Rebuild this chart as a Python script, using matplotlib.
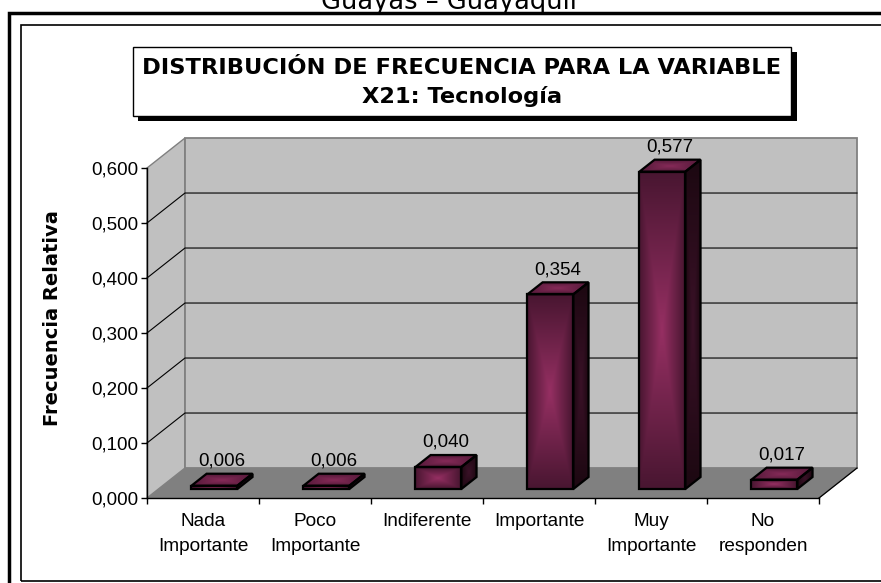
import numpy as np
import matplotlib.pyplot as plt
from matplotlib.patches import Polygon, Rectangle
from matplotlib.colors import LinearSegmentedColormap

# data
categories = ['Nada\nImportante', 'Poco\nImportante', 'Indiferente',
              'Importante', 'Muy\nImportante', 'No\nresponden']
frecuencia = [0.006, 0.006, 0.040, 0.354, 0.577, 0.017]
yticks = [0.0, 0.1, 0.2, 0.3, 0.4, 0.5, 0.6]

header = 'Guayas \u2013 Guayaquil'
title = 'DISTRIBUCIÓN DE FRECUENCIA PARA LA VARIABLE\nX21: Tecnología'
ylabel = 'Frecuencia Relativa'

plt.rcParams['font.family'] = ['Liberation Sans', 'DejaVu Sans']

W, H = 881, 583
CAT_PX, VAL_PX = 112, 550       # pixels per category / per unit of value
DX, DY = 0.339, 0.0545          # depth of the 3d box in data units
BAR_W = 0.41
D0, D1 = 0.3, 0.7               # depth range of the bars


def px(x0, y0, x1, y1):
    # pixel box (origin top-left) -> figure fraction rect
    return [x0 / W, 1 - y1 / H, (x1 - x0) / W, (y1 - y0) / H]


fig = plt.figure(figsize=(W / 100, H / 100), dpi=100)

# outer frames of the page
for (x0, y0, y1, lw) in [(9, 13, 600, 2.5), (21, 25, 581, 1.2)]:
    r = px(x0, y0, 900, y1)
    fig.add_artist(Rectangle((r[0], r[1]), r[2], r[3], transform=fig.transFigure,
                             fc='none', ec='black', lw=lw))

# page header, cut by the top edge as in the scanned page
fig.text(449 / W, 1 - 9 / H, header, ha='center', va='baseline',
         fontsize=18.5, family='DejaVu Sans')

# title box with shadow
r = px(138, 52, 797, 121)
fig.add_artist(Rectangle((r[0], r[1]), r[2], r[3], transform=fig.transFigure,
                         fc='black', ec='none'))
r = px(133, 47, 791, 116)
fig.add_artist(Rectangle((r[0], r[1]), r[2], r[3], transform=fig.transFigure,
                         fc='white', ec='black', lw=1))
fig.text(r[0] + r[2] / 2, r[1] + r[3] / 2 - 1 / H, title, ha='center', va='center',
         fontsize=16.2, fontweight='bold', family='DejaVu Sans', linespacing=1.45)

n = len(categories)
top = yticks[-1]
xmax = n + DX
ymax = top + DY
ax = fig.add_axes(px(147, 498 - ymax * VAL_PX, 147 + xmax * CAT_PX, 498))
ax.patch.set_visible(False)

# walls and floor
walls = [
    Polygon([(0, 0), (n, 0), (n + DX, DY), (DX, DY)], fc='#808080', ec='#808080', lw=0.8),
    Polygon([(0, 0), (0, top), (DX, top + DY), (DX, DY)], fc='#c0c0c0', ec='#808080', lw=1),
    Polygon([(DX, DY), (n + DX, DY), (n + DX, top + DY), (DX, top + DY)],
            fc='#c0c0c0', ec='#808080', lw=1.3),
]
for p in walls:
    p.set_zorder(0)
    p.set_clip_on(False)
    ax.add_patch(p)

for y in yticks[1:-1]:
    ax.plot([0, DX, n + DX], [y, y + DY, y + DY], color='black', lw=0.8,
            zorder=0.5, clip_on=False)
ax.plot([n, n + DX], [0, DY], color='black', lw=0.9, zorder=0.5, clip_on=False)

u = np.linspace(-1, 1, 80)
rect_grad = np.maximum(np.abs(u)[None, :], np.abs(u)[:, None])


def face(verts, c_center, c_edge, z):
    poly = Polygon(verts, closed=True, fc='none', ec='black', lw=1.6,
                   joinstyle='miter', zorder=z + 0.1, clip_on=False)
    ax.add_patch(poly)
    xs = [v[0] for v in verts]
    ys = [v[1] for v in verts]
    cmap = LinearSegmentedColormap.from_list('g', [c_center, c_edge])
    im = ax.imshow(rect_grad, cmap=cmap, origin='lower', aspect='auto',
                   extent=(min(xs), max(xs), min(ys), max(ys)),
                   interpolation='bilinear', zorder=z)
    im.set_clip_path(poly)
    im.set_clip_box(None)


for i, v in enumerate(frecuencia):
    x0 = i + 0.5 - BAR_W / 2
    x1 = x0 + BAR_W
    fx, fy = D0 * DX, D0 * DY
    bx, by = D1 * DX, D1 * DY
    z = 3 + i
    face([(x0 + fx, fy), (x1 + fx, fy), (x1 + fx, v + fy), (x0 + fx, v + fy)],
         '#952f62', '#491631', z)
    face([(x0 + fx, v + fy), (x1 + fx, v + fy), (x1 + bx, v + by), (x0 + bx, v + by)],
         '#862a58', '#541a39', z)
    face([(x1 + fx, fy), (x1 + bx, by), (x1 + bx, v + by), (x1 + fx, v + fy)],
         '#3a1127', '#1c0811', z)
    ax.annotate(f'{v:.3f}'.replace('.', ','), (i + 0.5 + 0.5 * DX, v + by),
                xytext=(0, 3), textcoords='offset points', ha='center',
                va='bottom', fontsize=13.5, zorder=20, annotation_clip=False)

# axes
for s in ['top', 'right']:
    ax.spines[s].set_visible(False)
ax.spines['left'].set_bounds(0, top)
ax.spines['bottom'].set_bounds(0, n)
for s in ['left', 'bottom']:
    ax.spines[s].set_linewidth(1)
    ax.spines[s].set_zorder(2.5)

ax.set_yticks(yticks)
ax.set_yticklabels([f'{t:.3f}'.replace('.', ',') for t in yticks])
ax.tick_params(axis='y', direction='out', length=4, width=1, pad=2, labelsize=13.5)

ax.set_xticks(range(n + 1))
ax.set_xticklabels([])
ax.set_xticks(np.arange(n) + 0.5, minor=True)
ax.set_xticklabels(categories, minor=True, linespacing=1.62)
ax.tick_params(axis='x', which='major', direction='out', length=4, width=1)
ax.tick_params(axis='x', which='minor', length=0, pad=10.5, labelsize=13.7)
for lab in ax.get_xticklabels(minor=True):
    lab.set_verticalalignment('top')

ax.set_ylabel(ylabel, fontsize=14, fontweight='bold', family='DejaVu Sans')
ax.yaxis.set_label_coords((62 - 147) / (xmax * CAT_PX), 0.5)

ax.set_xlim(0, xmax)
ax.set_ylim(0, ymax)

plt.savefig('out.png', dpi=100)
